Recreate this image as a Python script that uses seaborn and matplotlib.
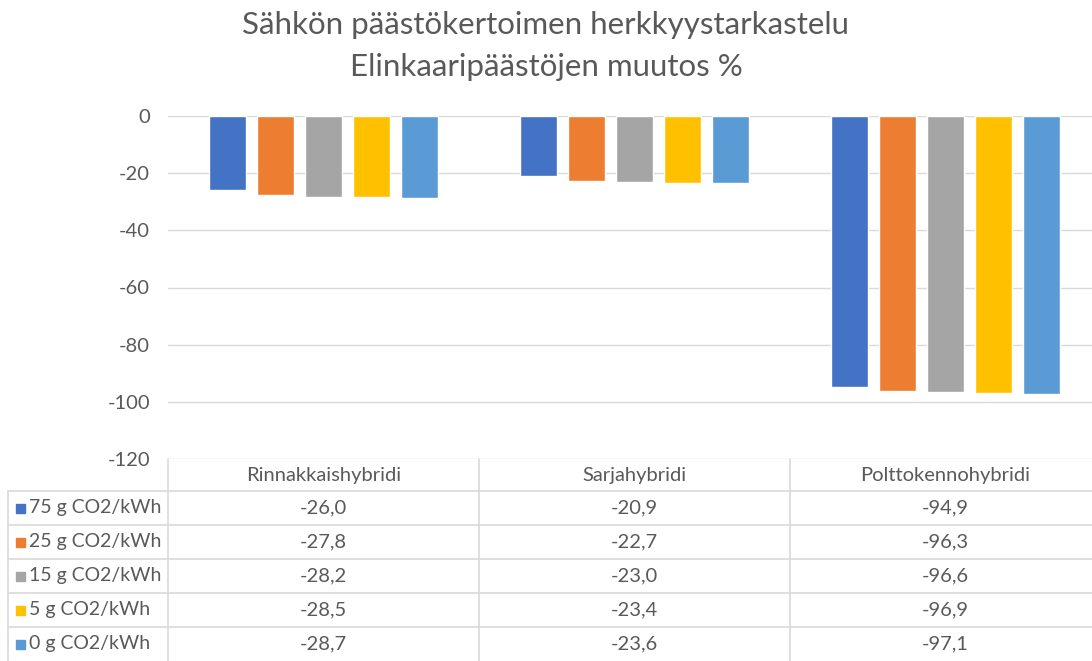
import pandas as pd
import seaborn as sns
import matplotlib.pyplot as plt
from matplotlib.lines import Line2D
from matplotlib.patches import Rectangle
from matplotlib.transforms import blended_transform_factory

categories = ['Rinnakkaishybridi', 'Sarjahybridi', 'Polttokennohybridi']
series = ['75 g CO2/kWh', '25 g CO2/kWh', '15 g CO2/kWh', '5 g CO2/kWh', '0 g CO2/kWh']
values_75 = [-26.0, -20.9, -94.9]
values_25 = [-27.8, -22.7, -96.3]
values_15 = [-28.2, -23.0, -96.6]
values_5 = [-28.5, -23.4, -96.9]
values_0 = [-28.7, -23.6, -97.1]
colors = ['#4472C4', '#ED7D31', '#A5A5A5', '#FFC000', '#5B9BD5']

all_values = [values_75, values_25, values_15, values_5, values_0]
rows = []
for name, vals in zip(series, all_values):
    for cat, v in zip(categories, vals):
        rows.append({'category': cat, 'series': name, 'value': v})
df = pd.DataFrame(rows)

sns.set_theme(style='white')
plt.rcParams['font.family'] = ['Lato', 'DejaVu Sans']
plt.rcParams['axes.unicode_minus'] = False
TEXT = '#595959'
GRID = '#d9d9d9'
FS = 14.5

W, H = 1092, 661
fig = plt.figure(figsize=(W / 100, H / 100), dpi=100)

# main bar axes (right edge runs slightly past the picture, as in the source)
ax = fig.add_axes([168 / W, (H - 459) / H, 933 / W, (459 - 116) / H])
sns.barplot(data=df, x='category', y='value', hue='series', order=categories,
            hue_order=series, palette=colors, width=0.77, gap=0.23,
            saturation=1, legend=False, ax=ax)
ax.set_ylim(-120, 0)
ax.set_xlim(-0.5, 2.5)
ax.set_yticks(range(-120, 1, 20))
ax.yaxis.grid(True, color=GRID, linewidth=1)
ax.set_axisbelow(True)
ax.tick_params(axis='y', length=0, pad=13, labelsize=FS, labelcolor=TEXT)
ax.set_xticks([])
ax.set_xlabel('')
ax.set_ylabel('')
for s in ax.spines.values():
    s.set_visible(False)

fig.text(0.5, 1 - 25 / H, 'Sähkön päästökertoimen herkkyystarkastelu',
         ha='center', va='center', fontsize=22.5, color=TEXT)
fig.text(0.5, 1 - 67 / H, 'Elinkaaripäästöjen muutos %',
         ha='center', va='center', fontsize=22.5, color=TEXT)

# data table below the plot
tax = fig.add_axes([168 / W, 0, 933 / W, 202 / H], sharex=ax)
tax.set_ylim(202, 0)
tax.axis('off')
header_h, row_h = 32, 34
fig_x = blended_transform_factory(fig.transFigure, tax.transData)

# vertical lines between columns
for i in range(len(categories)):
    tax.add_line(Line2D([i - 0.5, i - 0.5], [0, 202], color=GRID, lw=1.2, clip_on=False))
# left border of row-label column
tax.add_line(Line2D([8 / W, 8 / W], [header_h, 202], color=GRID, lw=1.2,
                    transform=fig_x, clip_on=False))
# horizontal lines
for r in range(len(series)):
    y = header_h + r * row_h
    tax.add_line(Line2D([8 / W, 1.0], [y, y], color=GRID, lw=1.2,
                        transform=fig_x, clip_on=False))

for i, cat in enumerate(categories):
    tax.text(i, header_h / 2, cat, ha='center', va='center', fontsize=FS,
             color=TEXT, clip_on=False)

for r, (name, vals, col) in enumerate(zip(series, all_values, colors)):
    yc = header_h + r * row_h + row_h / 2
    tax.add_patch(Rectangle((16 / W, yc - 4.5), 9 / W, 9, color=col,
                            transform=fig_x, clip_on=False))
    tax.text(29 / W, yc, name, ha='left', va='center', fontsize=FS - 0.5,
             color=TEXT, transform=fig_x, clip_on=False)
    for i, v in enumerate(vals):
        tax.text(i, yc, f'{v:.1f}'.replace('.', ','), ha='center', va='center',
                 fontsize=FS, color=TEXT, clip_on=False)

fig.savefig('out.png', dpi=100)
